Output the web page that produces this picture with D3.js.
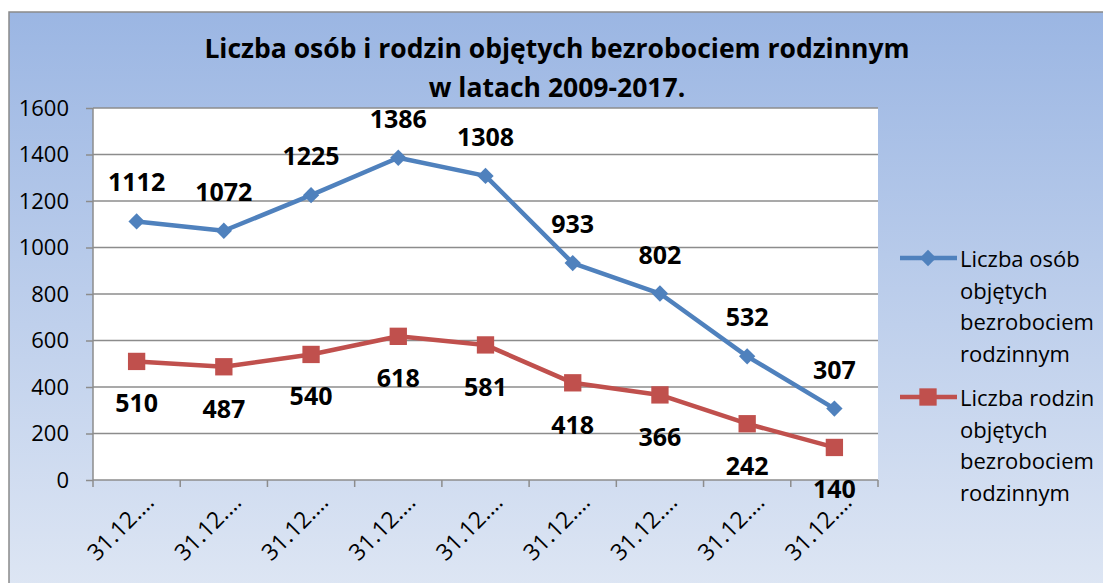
<!DOCTYPE html>
<html>
<head>
<meta charset="utf-8">
<style>
  body { margin: 0; background: #fff; }
  svg text { font-family: "Open Sans", sans-serif; }
</style>
</head>
<body>
<svg width="1103" height="583"></svg>
<script src="https://d3js.org/d3.v7.min.js"></script>
<script>

// data
var categories = ["31.12.…", "31.12.…", "31.12.…", "31.12.…", "31.12.…", "31.12.…", "31.12.…", "31.12.…", "31.12.…"];
var osoby   = [1112, 1072, 1225, 1386, 1308, 933, 802, 532, 307];
var rodziny = [510, 487, 540, 618, 581, 418, 366, 242, 140];
var yTicks  = [0, 200, 400, 600, 800, 1000, 1200, 1400, 1600];
var titleLines = ["Liczba osób i rodzin objętych bezrobociem rodzinnym", "w latach 2009-2017."];
var legendLabels = [
  ["Liczba osób", "objętych", "bezrobociem", "rodzinnym"],
  ["Liczba rodzin", "objętych", "bezrobociem", "rodzinnym"]
];

var svg = d3.select("svg"),
    margin = {top: 108, left: 93},
    width = 785,
    height = 372;

var blue = "#4f81bd", red = "#c0504d", gridCol = "#8c8c8c";

// background gradient of the chart area
var defs = svg.append("defs");
var grad = defs.append("linearGradient").attr("id", "bg")
    .attr("x1", 0).attr("y1", 0).attr("x2", 0).attr("y2", 1);
grad.append("stop").attr("offset", "0%").attr("stop-color", "#9bb6e3");
grad.append("stop").attr("offset", "100%").attr("stop-color", "#dfe7f4");

svg.append("rect")
    .attr("x", 9).attr("y", 12)
    .attr("width", 1110).attr("height", 590)
    .attr("fill", "url(#bg)")
    .attr("stroke", "#8a8a8a").attr("stroke-width", 1.5);

// title
svg.append("g").selectAll("text")
  .data(titleLines)
  .enter().append("text")
    .attr("x", 557)
    .attr("y", function(d, i) { return 58 + i * 39; })
    .attr("text-anchor", "middle")
    .attr("font-size", 26.5)
    .attr("font-weight", "bold")
    .attr("fill", "#000")
    .text(function(d) { return d; });

var g = svg.append("g").attr("transform", "translate(" + margin.left + "," + margin.top + ")");

g.append("rect").attr("width", width).attr("height", height).attr("fill", "#fff");

var x = d3.scaleBand().domain(d3.range(categories.length)).range([0, width]);
var y = d3.scaleLinear().domain([0, 1600]).range([height, 0]);
var cx = function(i) { return x(i) + x.bandwidth() / 2; };

// gridlines
g.append("g").selectAll("line")
  .data(yTicks.slice(1))
  .enter().append("line")
    .attr("x1", 0).attr("x2", width)
    .attr("y1", function(d) { return y(d); })
    .attr("y2", function(d) { return y(d); })
    .attr("stroke", gridCol).attr("stroke-width", 1.5);

// y axis
var yAxis = g.append("g")
    .call(d3.axisLeft(y).tickValues(yTicks).tickFormat(d3.format("d")).tickSize(7).tickPadding(17));
yAxis.selectAll("line, path").attr("stroke", gridCol).attr("stroke-width", 1.5);
yAxis.select(".domain").attr("d", "M0," + height + "V0");
yAxis.selectAll("text")
    .attr("font-family", "Open Sans, sans-serif")
    .attr("font-size", 22).attr("fill", "#000");

// x axis
var xb = g.append("g").attr("transform", "translate(0," + height + ")");
xb.append("line").attr("x1", 0).attr("x2", width)
    .attr("stroke", gridCol).attr("stroke-width", 1.5);
xb.selectAll(".tk")
  .data(d3.range(categories.length + 1))
  .enter().append("line")
    .attr("class", "tk")
    .attr("x1", function(i) { return i * x.step(); })
    .attr("x2", function(i) { return i * x.step(); })
    .attr("y1", 0).attr("y2", 7)
    .attr("stroke", gridCol).attr("stroke-width", 1.5);
xb.selectAll(".xl")
  .data(categories)
  .enter().append("text")
    .attr("class", "xl")
    .attr("transform", function(d, i) { return "translate(" + (cx(i) + 13) + ",18) rotate(-45)"; })
    .attr("text-anchor", "end")
    .attr("dy", "0.35em")
    .attr("font-size", 23)
    .attr("fill", "#000")
    .text(function(d) { return d; });

// lines
var line = d3.line()
    .x(function(d, i) { return cx(i); })
    .y(function(d) { return y(d); });

g.append("path").datum(osoby)
    .attr("d", line).attr("fill", "none")
    .attr("stroke", blue).attr("stroke-width", 4.5).attr("stroke-linejoin", "round");
g.append("path").datum(rodziny)
    .attr("d", line).attr("fill", "none")
    .attr("stroke", red).attr("stroke-width", 4.5).attr("stroke-linejoin", "round");

var diamond = d3.symbol().type(d3.symbolDiamond2).size(170);
var square = d3.symbol().type(d3.symbolSquare).size(300);

g.append("g").selectAll("path")
  .data(osoby)
  .enter().append("path")
    .attr("d", diamond)
    .attr("transform", function(d, i) { return "translate(" + cx(i) + "," + y(d) + ")"; })
    .attr("fill", blue);
g.append("g").selectAll("path")
  .data(rodziny)
  .enter().append("path")
    .attr("d", square)
    .attr("transform", function(d, i) { return "translate(" + cx(i) + "," + y(d) + ")"; })
    .attr("fill", red);

// data labels
g.append("g").selectAll("text")
  .data(osoby)
  .enter().append("text")
    .attr("x", function(d, i) { return cx(i); })
    .attr("y", function(d) { return y(d) - 30; })
    .attr("text-anchor", "middle")
    .attr("font-size", 25).attr("font-weight", "bold")
    .text(function(d) { return d; });
g.append("g").selectAll("text")
  .data(rodziny)
  .enter().append("text")
    .attr("x", function(d, i) { return cx(i); })
    .attr("y", function(d) { return y(d) + 51; })
    .attr("text-anchor", "middle")
    .attr("font-size", 25).attr("font-weight", "bold")
    .text(function(d) { return d; });

// legend
var legend = svg.append("g");
var legendY = [258, 397];
legendLabels.forEach(function(lines, k) {
  var col = k == 0 ? blue : red;
  legend.append("line")
      .attr("x1", 900).attr("x2", 957)
      .attr("y1", legendY[k]).attr("y2", legendY[k])
      .attr("stroke", col).attr("stroke-width", 4.5);
  legend.append("path")
      .attr("d", k == 0 ? diamond : square)
      .attr("transform", "translate(928," + legendY[k] + ")")
      .attr("fill", col);
  lines.forEach(function(t, j) {
    legend.append("text")
        .attr("x", 960)
        .attr("y", legendY[k] + 9 + j * 31.5)
        .attr("font-size", 22)
        .attr("fill", "#000")
        .text(t);
  });
});

</script>
</body>
</html>
